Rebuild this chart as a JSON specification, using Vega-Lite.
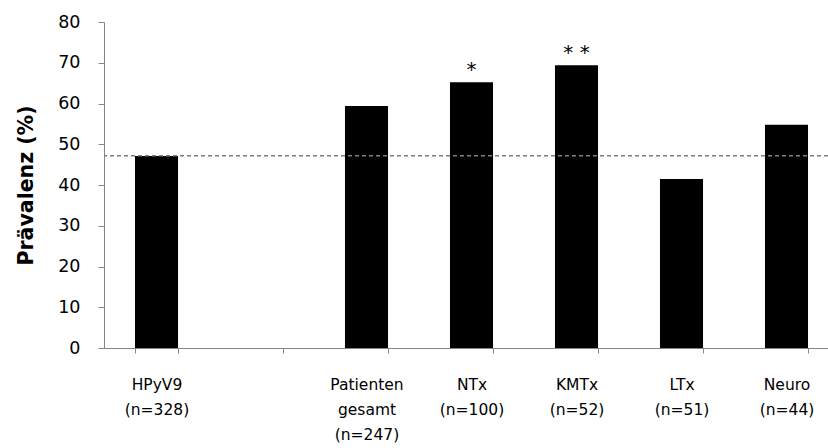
{
  "$schema": "https://vega.github.io/schema/vega-lite/v6.json",
  "autosize": "none",
  "width": 724,
  "height": 326,
  "padding": {"left": 104, "top": 22, "right": 0, "bottom": 100},
  "background": "white",
  "config": {
    "view": {"stroke": null},
    "font": "DejaVu Sans"
  },
  "data": {
    "values": [
      {"cat": "HPyV9|(n=328)", "value": 47.1, "star": ""},
      {"cat": "Patienten|gesamt|(n=247)", "value": 59.4, "star": ""},
      {"cat": "NTx|(n=100)", "value": 65.2, "star": "*"},
      {"cat": "KMTx|(n=52)", "value": 69.4, "star": "* *"},
      {"cat": "LTx|(n=51)", "value": 41.5, "star": ""},
      {"cat": "Neuro|(n=44)", "value": 54.8, "star": ""}
    ]
  },
  "encoding": {
    "x": {
      "field": "cat",
      "type": "nominal",
      "scale": {
        "domain": ["HPyV9|(n=328)", " ", "Patienten|gesamt|(n=247)", "NTx|(n=100)", "KMTx|(n=52)", "LTx|(n=51)", "Neuro|(n=44)"],
        "range": [0, 735],
        "paddingInner": 0.59,
        "paddingOuter": 0.295
      },
      "axis": {
        "title": null,
        "labelAngle": 0,
        "labelExpr": "split(datum.label, '|')",
        "labelFont": "DejaVu Sans",
        "labelFontSize": 15.5,
        "labelColor": "black",
        "labelLineHeight": 25,
        "labelPadding": 24,
        "labelBaseline": "top",
        "domainColor": "#868686",
        "tickColor": "#868686",
        "tickBand": "extent",
        "tickSize": 5,
        "labelBound": false,
        "labelOverlap": false
      }
    }
  },
  "layer": [
    {
      "mark": {"type": "bar", "color": "black"},
      "encoding": {
        "y": {
          "field": "value",
          "type": "quantitative",
          "scale": {"domain": [0, 80]},
          "axis": {
            "title": "Prävalenz (%)",
            "titleFont": "DejaVu Sans",
            "titleFontSize": 20.5,
            "titleFontWeight": "bold",
            "titleColor": "black",
            "titlePadding": 21,
            "values": [0, 10, 20, 30, 40, 50, 60, 70, 80],
            "grid": false,
            "labelFont": "DejaVu Sans",
            "labelFontSize": 17.5,
            "labelColor": "black",
            "labelPadding": 18,
            "domainColor": "#868686",
            "tickColor": "#868686",
            "tickSize": 6
          }
        }
      }
    },
    {
      "mark": {"type": "text", "dy": -12, "fontSize": 20, "font": "DejaVu Sans", "color": "black", "baseline": "middle"},
      "encoding": {
        "y": {"field": "value", "type": "quantitative"},
        "text": {"field": "star"}
      }
    },
    {
      "data": {"values": [{"ref": 47.2}]},
      "mark": {"type": "rule", "color": "#7f7f7f", "strokeDash": [4, 3], "strokeWidth": 1.5},
      "encoding": {
        "x": null,
        "y": {"field": "ref", "type": "quantitative"}
      }
    }
  ]
}
